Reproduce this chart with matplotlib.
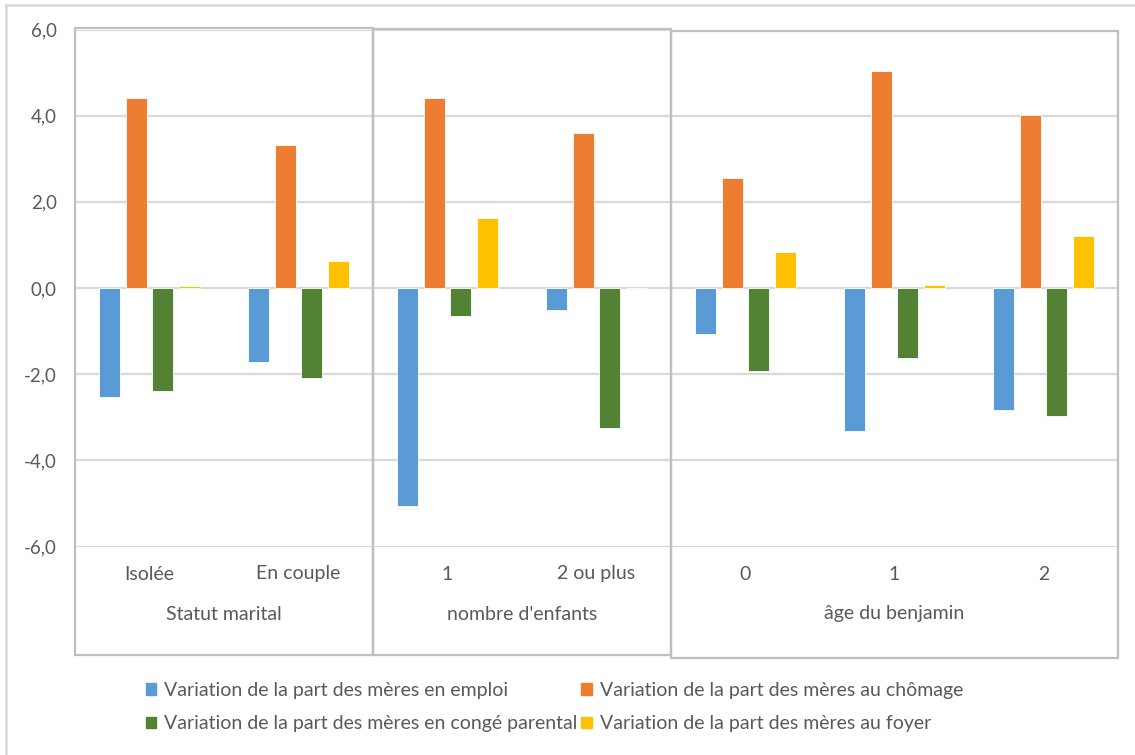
import matplotlib.pyplot as plt
import matplotlib.transforms as mtransforms
from matplotlib.patches import Rectangle, Patch
from matplotlib.lines import Line2D
import numpy as np

plt.rcParams['font.family'] = ['Lato', 'DejaVu Sans']

# sous-catégories et groupes de l'axe des abscisses
categories = ["Isolée", "En couple", "1", "2 ou plus", "0", "1", "2"]
groupes = ["Statut marital", "nombre d'enfants", "âge du benjamin"]
taille_groupes = [2, 2, 3]

# variations (en points)
emploi = [-2.54, -1.72, -5.06, -0.52, -1.07, -3.32, -2.83]
chomage = [4.41, 3.31, 4.41, 3.59, 2.55, 5.03, 4.02]
conge = [-2.38, -2.09, -0.64, -3.24, -1.93, -1.62, -2.96]
foyer = [0.04, 0.62, 1.63, 0.0, 0.84, 0.07, 1.20]

series = [
    ("Variation de la part des mères en emploi", emploi, "#5B9BD5"),
    ("Variation de la part des mères au chômage", chomage, "#ED7D31"),
    ("Variation de la part des mères en congé parental", conge, "#548235"),
    ("Variation de la part des mères au foyer", foyer, "#FFC000"),
]

W, H = 1135, 755
gris_txt = "#595959"
gris_cadre = "#BFBFBF"
gris_grille = "#D9D9D9"

def fy(py):
    # pixel vertical (depuis le haut) -> fraction de figure
    return 1 - py / H

fig = plt.figure(figsize=(W / 100, H / 100), dpi=100)
ax = fig.add_axes([75 / W, fy(546.5), 1043 / W, 517 / H])

x = np.arange(len(categories))
largeur = 0.14
pas = 0.18
for i, (nom, vals, coul) in enumerate(series):
    ax.bar(x + (i - 1.5) * pas, vals, largeur, color=coul,
           edgecolor="white", linewidth=0.6, label=nom, zorder=3)

ax.set_xlim(-0.5, len(categories) - 0.5)
ax.set_ylim(-6, 6)
ax.set_yticks(np.arange(-6, 7, 2))
ax.set_yticklabels([f"{v:.1f}".replace(".", ",") for v in np.arange(-6, 7, 2)],
                   color=gris_txt, fontsize=13.5)
ax.tick_params(axis="y", length=0, pad=13)
ax.set_xticks([])
ax.grid(axis="y", color=gris_grille, linewidth=1.6, zorder=0)
for s in ax.spines.values():
    s.set_visible(False)

trans = mtransforms.blended_transform_factory(ax.transData, fig.transFigure)

# libellés des sous-catégories
for xi, lab in zip(x, categories):
    fig.text(xi, fy(574), lab, transform=trans, ha="center", va="center",
             fontsize=14, color=gris_txt)

# cadres et libellés des groupes
debut = -0.5
hauts = [28, 29, 31]
bas = [655, 655, 658]
for g, n, h, b in zip(groupes, taille_groupes, hauts, bas):
    fin = debut + n
    fig.text((debut + fin) / 2, fy(614), g, transform=trans, ha="center",
             va="center", fontsize=14, color=gris_txt)
    fig.add_artist(Line2D([debut, debut], [fy(546), fy(629)], transform=trans,
                          color=gris_grille, linewidth=0.8))
    fig.add_artist(Rectangle((debut, fy(b)), n, fy(h) - fy(b), transform=trans,
                             fill=False, edgecolor=gris_cadre, linewidth=1.6,
                             zorder=5))
    debut = fin

# bordure de la zone de graphique
fig.add_artist(Line2D([6 / W, 1], [fy(5), fy(5)], color=gris_grille, linewidth=1.8))
fig.add_artist(Line2D([6 / W, 6 / W], [fy(5), 0], color=gris_grille, linewidth=1.8))

# légende sur deux lignes
handles = [Patch(color=c) for _, _, c in series]
labels = [n for n, _, _ in series]
ordre = [0, 2, 1, 3]
fig.legend([handles[i] for i in ordre], [labels[i] for i in ordre],
           ncol=2, loc="center left", bbox_to_anchor=(128 / W, fy(707)),
           frameon=False, fontsize=14, labelcolor=gris_txt,
           handlelength=0.55, handleheight=0.55, handletextpad=0.4,
           columnspacing=0.2, labelspacing=0.85)

fig.savefig("out.png", dpi=100, facecolor="white")
